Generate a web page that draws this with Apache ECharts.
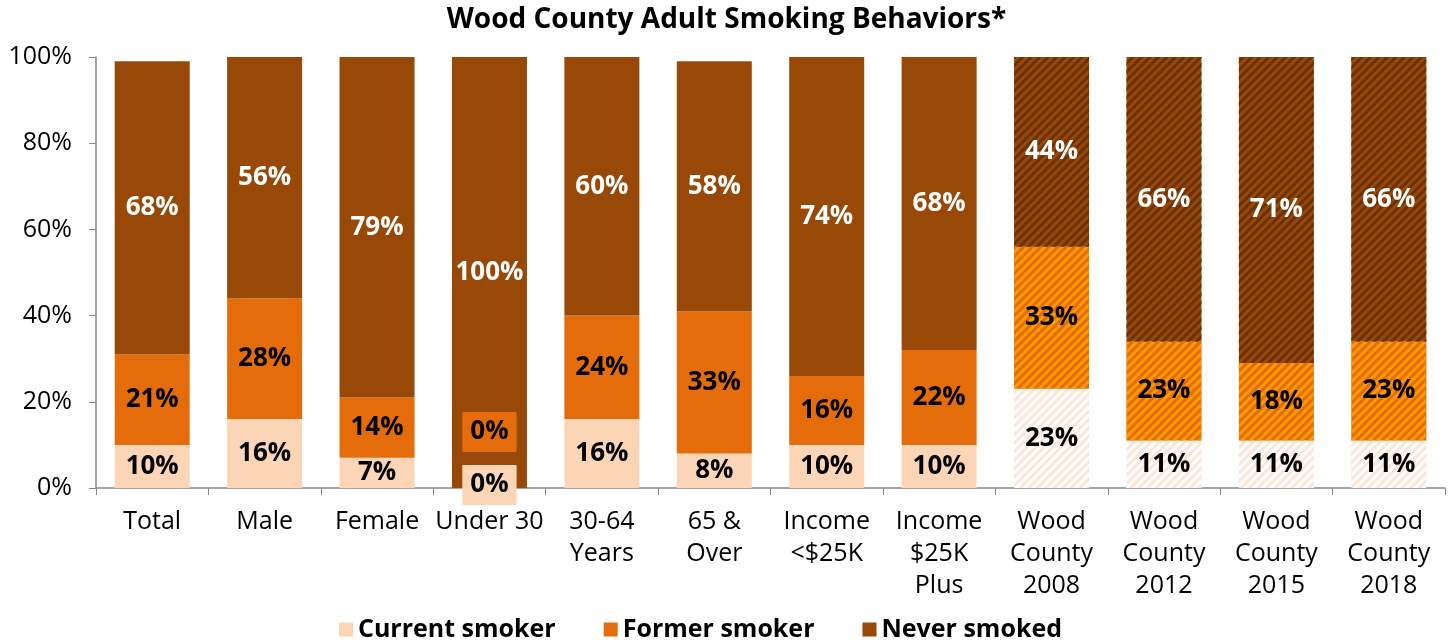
<!DOCTYPE html>
<html>
<head>
<meta charset="utf-8">
<title>Wood County Adult Smoking Behaviors</title>
<script src="https://cdn.jsdelivr.net/npm/echarts@6/dist/echarts.min.js"></script>
<style>
    html, body { margin: 0; padding: 0; background: #fff; }
    #main { width: 1453px; height: 643px; }
</style>
</head>
<body>
<div id="main"></div>
<script>
// categories along the x axis
var categories = ['Total', 'Male', 'Female', 'Under 30', '30-64\nYears', '65 &\nOver',
    'Income\n<$25K', 'Income\n$25K\nPlus', 'Wood\nCounty\n2008', 'Wood\nCounty\n2012',
    'Wood\nCounty\n2015', 'Wood\nCounty\n2018'];
var seriesNames = ['Current smoker', 'Former smoker', 'Never smoked'];
var currentSmoker = [10, 16, 7, 0, 16, 8, 10, 10, 23, 11, 11, 11];
var formerSmoker = [21, 28, 14, 0, 24, 33, 16, 22, 33, 23, 18, 23];
var neverSmoked = [68, 56, 79, 100, 60, 58, 74, 68, 44, 66, 71, 66];
var yTicks = [0, 20, 40, 60, 80, 100];

// the last four bars (county trend years) are hatched
var hatchedFrom = 8;

var FONT = '"Open Sans", "Noto Sans", sans-serif';
var colors = ['#FBD5B5', '#E46C0A', '#984807'];
var hatchBase = ['#FBE5D6', '#E46C0A', '#984807'];
var hatchStripe = ['#FFFFFF', '#FF9A00', '#6B3104'];
var labelColors = ['#000', '#000', '#fff'];

function buildData(values, idx) {
    var out = [];
    for (var i = 0; i < values.length; i++) {
        var item = { value: values[i] };
        if (i >= hatchedFrom) {
            item.itemStyle = {
                color: hatchBase[idx],
                decal: {
                    color: hatchStripe[idx],
                    dashArrayX: [1, 0],
                    dashArrayY: [2.5, 2.5],
                    symbolSize: 1,
                    rotation: -Math.PI / 4
                }
            };
        }
        // zero-height bars in "Under 30" still show a boxed label
        if (values[i] === 0) {
            item.label = {
                backgroundColor: colors[idx],
                padding: [7, 8, 7, 8],
                offset: idx === 1 ? [0, -56] : [0, -3]
            };
        }
        out.push(item);
    }
    return out;
}

var all = [currentSmoker, formerSmoker, neverSmoked];
var series = [];
for (var s = 0; s < all.length; s++) {
    series.push({
        name: seriesNames[s],
        type: 'bar',
        stack: 'total',
        barWidth: 75,
        itemStyle: { color: colors[s] },
        label: {
            show: true,
            position: 'inside',
            formatter: '{c}%',
            color: labelColors[s],
            fontFamily: FONT,
            fontWeight: 'bold',
            fontSize: 26
        },
        emphasis: { disabled: true },
        data: buildData(all[s], s)
    });
}

var myChart = echarts.init(document.getElementById('main'));
myChart.setOption({
    animation: false,
    title: {
        text: 'Wood County Adult Smoking Behaviors*',
        left: 'center',
        top: 1,
        textStyle: { fontFamily: FONT, fontWeight: 'bold', fontSize: 28, color: '#000' }
    },
    legend: {
        data: seriesNames,
        top: 612,
        left: 334,
        icon: 'rect',
        itemWidth: 14,
        itemHeight: 14,
        itemGap: 48,
        textStyle: { fontFamily: FONT, fontWeight: 'bold', fontSize: 25, color: '#000' }
    },
    grid: { left: 96, right: 8, top: 57, bottom: 155, containLabel: false },
    xAxis: {
        type: 'category',
        data: categories,
        axisLine: { lineStyle: { color: '#868686', width: 1.5 } },
        axisTick: { show: true, length: 7, lineStyle: { color: '#868686' } },
        axisLabel: {
            interval: 0,
            margin: 18,
            color: '#000',
            fontFamily: FONT,
            fontSize: 25,
            lineHeight: 32
        }
    },
    yAxis: {
        type: 'value',
        min: yTicks[0],
        max: yTicks[yTicks.length - 1],
        interval: 20,
        axisLine: { show: true, lineStyle: { color: '#868686', width: 1.5 } },
        axisTick: { show: true, length: 7, lineStyle: { color: '#868686' } },
        splitLine: { show: false },
        axisLabel: {
            margin: 24,
            color: '#000',
            fontFamily: FONT,
            fontSize: 25,
            formatter: '{value}%'
        }
    },
    series: series
});
</script>
</body>
</html>
